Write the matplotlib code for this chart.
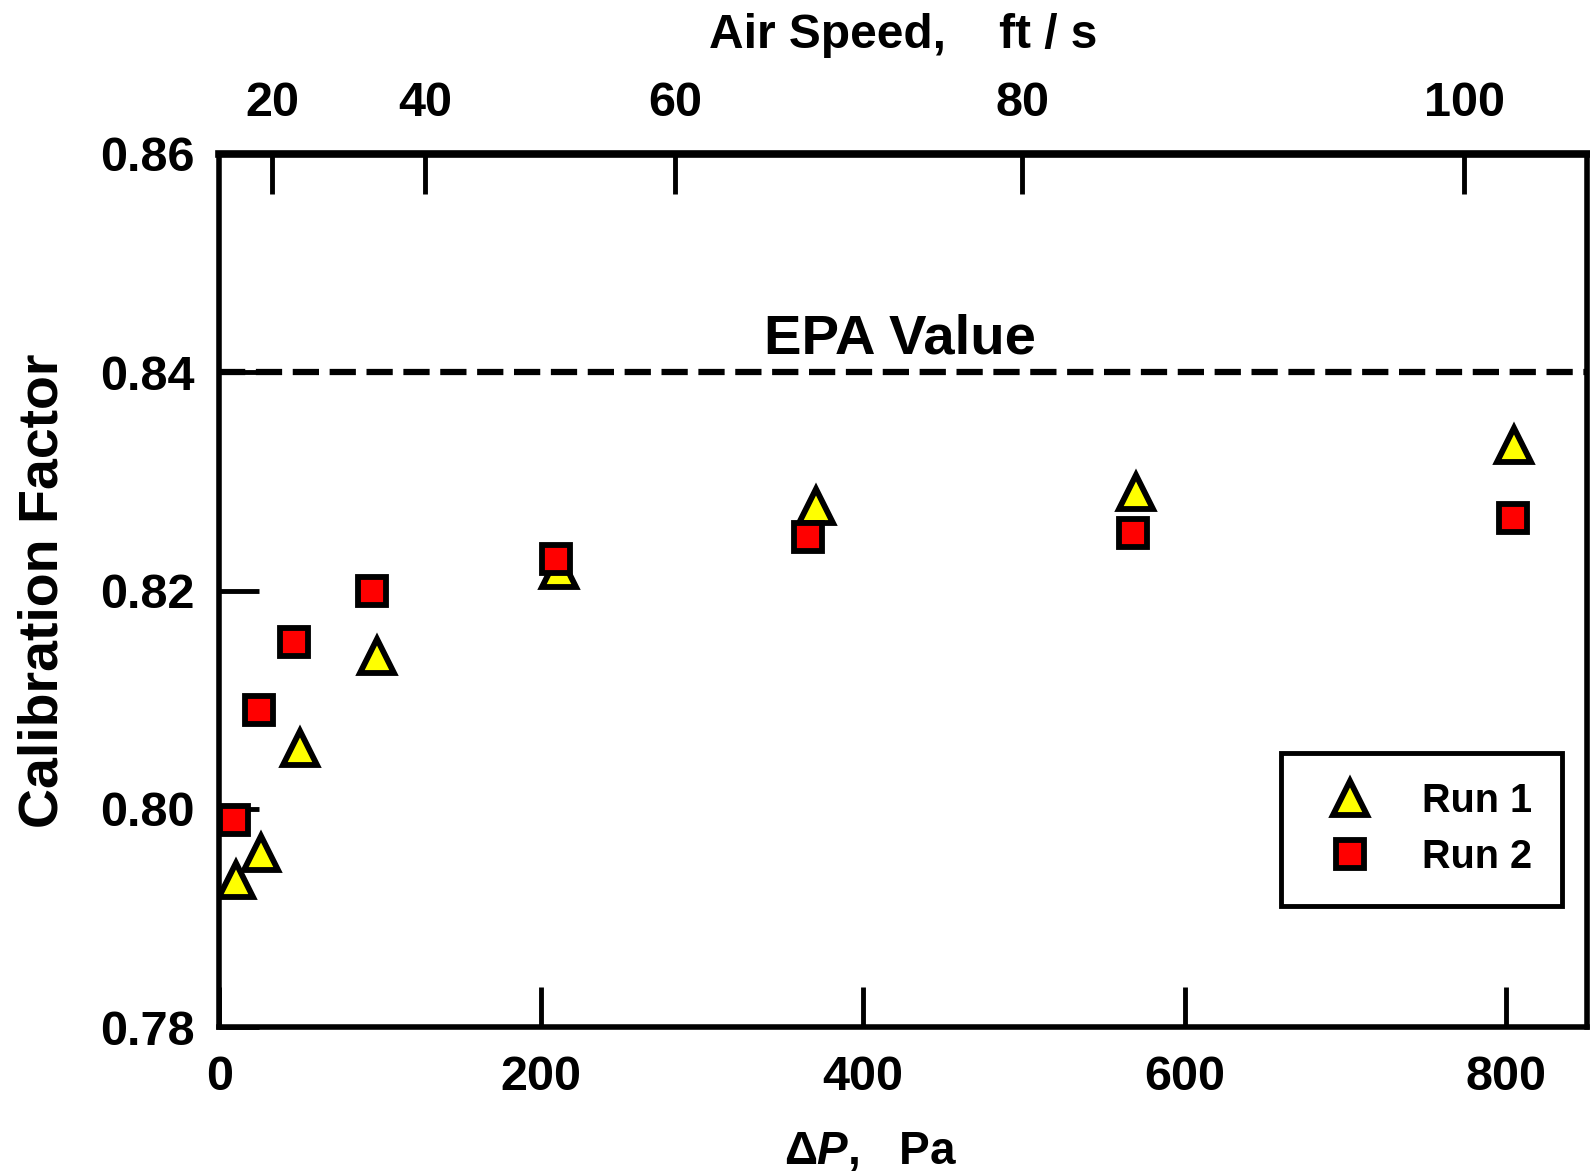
import numpy as np
import matplotlib
matplotlib.use('Agg')
from matplotlib import pyplot as plt

plt.rcParams['font.family'] = ['Liberation Sans', 'DejaVu Sans']
plt.rcParams['font.weight'] = 'bold'
plt.rcParams['axes.labelweight'] = 'bold'
plt.rcParams['mathtext.fontset'] = 'custom'
plt.rcParams['mathtext.it'] = 'Liberation Sans:italic:bold'
plt.rcParams['mathtext.rm'] = 'Liberation Sans:bold'

# data
dp_run1 = [10, 26, 50, 98, 211, 371, 570, 805]
cf_run1 = [0.7935, 0.7960, 0.8056, 0.8140, 0.8219, 0.8277, 0.8290, 0.8333]
dp_run2 = [9, 24.5, 46.5, 95, 209, 366, 568, 804]
cf_run2 = [0.7990, 0.8091, 0.8153, 0.8200, 0.8229, 0.8249, 0.8253, 0.8266]
epa_value = 0.84
speed_ticks = [20, 40, 60, 80, 100]
dp_ticks = [0, 200, 400, 600, 800]
cf_ticks = [0.78, 0.80, 0.82, 0.84, 0.86]

# dP [Pa] = a * v^n, v in ft/s (fitted to the top scale)
a, n = 0.0905, 1.966
def dp_to_speed(p):
    return (np.clip(np.asarray(p, dtype=float), 0, None) / a) ** (1.0 / n)
def speed_to_dp(v):
    return a * np.clip(np.asarray(v, dtype=float), 0, None) ** n

my_dpi = 100
fig = plt.figure(figsize=(1590 / my_dpi, 1174 / my_dpi), dpi=my_dpi)
ax = fig.add_axes([0.138, 0.125, 0.860, 0.744])

ax.axhline(epa_value, color='black', lw=4.5, dashes=(4.2, 1.7))
ax.text(423, 0.8430, 'EPA Value', fontsize=40.5, fontweight='bold',
        ha='center', va='center')

ax.plot(dp_run1, cf_run1, '^', ms=25, mfc='#ffff00', mec='black', mew=4.2,
        label='Run 1', zorder=3)
ax.plot(dp_run2, cf_run2, 's', ms=20, mfc='#ff0000', mec='black', mew=4.2,
        label='Run 2', zorder=4)

ax.set_xlim(0, 850)
ax.set_ylim(0.78, 0.86)
ax.set_xticks(dp_ticks)
ax.set_yticks(cf_ticks)
ax.set_yticklabels(['%.2f' % t for t in cf_ticks])
ax.tick_params(axis='both', direction='in', length=29, width=3.5,
               labelsize=35, top=False, right=False)
ax.tick_params(axis='x', pad=20)
ax.tick_params(axis='y', pad=18)
for s in ax.spines.values():
    s.set_linewidth(4)

ax.set_xlabel(r'$\Delta\mathit{P}$,   Pa', fontsize=33, fontweight='bold')
ax.xaxis.set_label_coords(0.476, -0.118)
ax.set_ylabel('Calibration Factor', fontsize=40, fontweight='bold')
ax.yaxis.set_label_coords(-0.110, 0.5)

sec = ax.secondary_xaxis('top', functions=(dp_to_speed, speed_to_dp))
sec.set_xticks(speed_ticks)
sec.tick_params(direction='in', length=29, width=3.5, labelsize=35, pad=20)
sec.spines['top'].set_linewidth(5.5)
sec.set_xlabel('Air Speed,    ft / s', fontsize=34.5, fontweight='bold',
               labelpad=24)

leg = ax.legend(loc='lower right', bbox_to_anchor=(0.9815, 0.139),
                fontsize=28.5, frameon=True, fancybox=False, framealpha=1,
                edgecolor='black', borderpad=0.75, handlelength=2.0,
                handletextpad=0.8, labelspacing=0.45, borderaxespad=0)
leg.get_frame().set_linewidth(3.5)

plt.savefig('out.png', dpi=my_dpi)
